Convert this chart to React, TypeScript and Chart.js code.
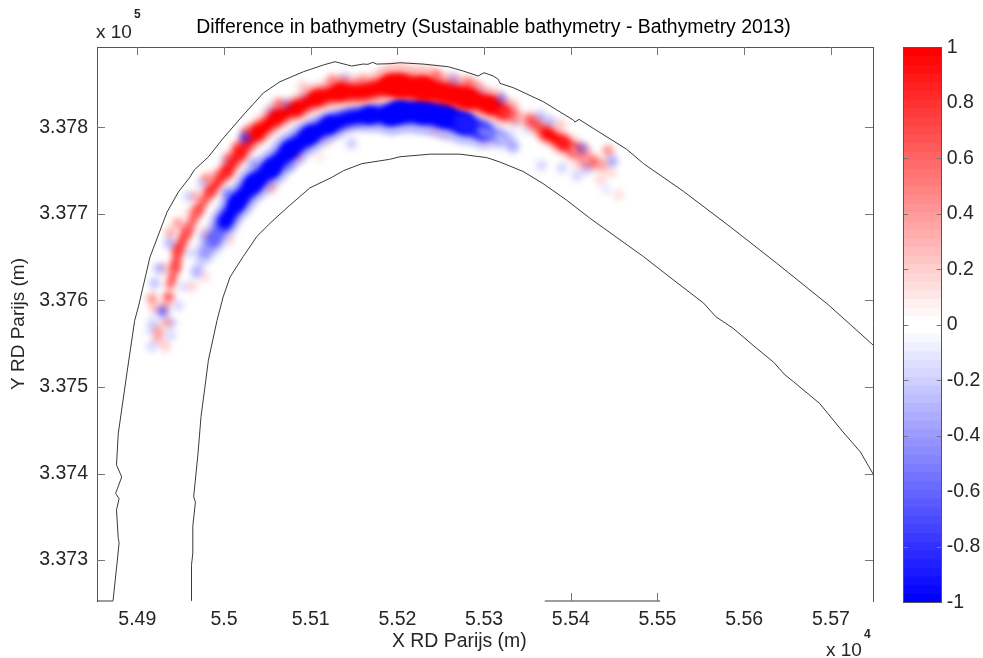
import React, { useEffect, useRef } from "react";
import { Chart, registerables } from "chart.js";

Chart.register(...registerables);

const chartTitle = "Difference in bathymetry (Sustainable bathymetry - Bathymetry 2013)";
const xLabel = "X RD Parijs (m)";
const yLabel = "Y RD Parijs (m)";

const xRange = [54853.5, 55748.6];
const yRange = [337252.7, 337892.8];
const xTicks = [54900, 55000, 55100, 55200, 55300, 55400, 55500, 55600, 55700];
const xTicksOnBottom = [55400, 55500];
const yTicks = [337300, 337400, 337500, 337600, 337700, 337800];

const outerX = [54872, 54877, 54879, 54878, 54876, 54879, 54875, 54882, 54876, 54878, 54888, 54897, 54901.2, 54914.6, 54934.3, 54947.3, 54960.8, 54965.7, 54981.9, 54999.2, 55022.3, 55045.3, 55064.6, 55091.5, 55114.5, 55128, 55133.8, 55147.3, 55160.3, 55166.1, 55171.5, 55176.1, 55191.5, 55203, 55229.5, 55258.7, 55276, 55293.3, 55299.9, 55310.6, 55316.4, 55318.3, 55333.7, 55368.3, 55402.9, 55404.8, 55409.5, 55425.9, 55464.5, 55484, 55530, 55584, 55637.5, 55697, 55748.6];
const outerY = [337253, 337300, 337320, 337325, 337358, 337371, 337377, 337396, 337410, 337446, 337516, 337577, 337592.4, 337650.1, 337702.1, 337725.2, 337742.6, 337750.7, 337765.7, 337787.6, 337814.2, 337839.6, 337852.7, 337864.2, 337872, 337875.8, 337874.3, 337870.8, 337873.1, 337872.8, 337875.1, 337873.1, 337873.5, 337874.6, 337873.1, 337870, 337865, 337859.3, 337863.1, 337859.3, 337855.5, 337850.8, 337845.8, 337829.6, 337808.4, 337806.1, 337809.2, 337798.8, 337774.6, 337758, 337726, 337685, 337643, 337595, 337548.5];

const innerX = [54963, 54962, 54963, 54962.5, 54964, 54964, 54964, 54967, 54965, 54970, 54973.5, 54978, 54982, 54992, 54999, 55007, 55022, 55038, 55055, 55076, 55099, 55124, 55138, 55159, 55191, 55203, 55238, 55272, 55303, 55318, 55345, 55368, 55395, 55422, 55484, 55518, 55553, 55567.5, 55587, 55614, 55634, 55647, 55657, 55687, 55714, 55734, 55749];
const innerY = [337253, 337265, 337283, 337294, 337308, 337323, 337339, 337367, 337373, 337423, 337466, 337500, 337531, 337577, 337604, 337627, 337650.5, 337674, 337691, 337710, 337730, 337742, 337750, 337758, 337763, 337766, 337769, 337769, 337765, 337760, 337749, 337735, 337716, 337695, 337650.5, 337624, 337597, 337581, 337568, 337545, 337528.5, 337514, 337506, 337481, 337448, 337425, 337399];

const bottomAxisLeftX = [54853.5, 54872];
const bottomAxisRightX = [55370, 55503];
const bottomAxisY = [337252.7, 337252.7];

const redBandX = [54938, 54944, 54947, 54957, 54970, 54984, 55003, 55018, 55038, 55061, 55084, 55107, 55134, 55161, 55192, 55203, 55230, 55257, 55280, 55307, 55322, 55336, 55353, 55372, 55391, 55404, 55418, 55437];
const redBandY = [337618, 337639, 337658, 337679, 337704, 337726, 337749, 337770, 337793, 337812, 337822, 337834, 337841, 337841, 337849, 337848, 337845, 337839, 337834, 337826, 337818, 337812, 337808, 337793, 337782, 337774, 337762, 337756];
const redBandValue = [0.75, 0.8, 0.8, 0.7, 0.75, 0.85, 0.9, 0.9, 1, 1, 1, 1, 1, 1, 1, 1, 1, 1, 1, 1, 0.8, 0.3, 0.7, 1, 0.9, 0.5, 0.35, 0.3];
const redBandWidthM = [7, 8, 9, 8, 8, 10, 12, 13, 16, 15, 16, 18, 20, 20, 25, 27, 26, 26, 21, 17, 11, 7, 12, 13, 14, 13, 12, 11];

const blueBandX = [54969, 54978, 54988, 55001, 55015, 55034, 55055, 55076, 55099, 55122, 55145, 55168, 55192, 55203, 55230, 55253, 55276, 55299, 55318, 55333];
const blueBandY = [337632, 337655, 337670, 337691, 337713, 337735, 337753, 337774, 337791, 337803, 337811, 337814, 337814, 337818, 337818, 337814, 337805, 337795, 337788, 337778];
const blueBandValue = [0.2, 0.4, 0.6, 1, 1, 1, 1, 1, 1, 1, 1, 1, 1, 1, 1, 1, 0.9, 0.55, 0.25, 0.12];
const blueBandWidthM = [9, 15, 17, 18, 20, 21, 20, 21, 20, 19, 19, 20, 25, 27, 28, 27, 22, 15, 11, 11];

const redSpeckX = [54917, 54920, 54924, 54932, 54924, 54936, 54932, 54934, 54932, 54947, 54938, 54961, 54967, 54980, 54992, 55005, 55016, 55026, 55038, 55063, 55091, 55124, 55159, 55137, 54963, 54978, 54978, 55007, 55055, 55086, 55111, 55120, 55245, 55282, 55291, 55334, 55388, 55426, 55443, 55434, 55447, 55455, 55418, 55241, 55253, 55301, 55407];
const redSpeckY = [337602, 337591, 337566, 337547, 337557, 337604, 337593, 337575, 337637, 337689, 337678, 337702, 337720, 337741, 337745, 337764, 337778, 337795, 337799, 337828, 337847, 337855, 337855, 337853, 337616, 337627, 337678, 337670, 337730, 337764, 337766, 337783, 337860, 337851, 337847, 337826, 337803, 337760, 337773, 337739, 337747, 337722, 337774, 337797, 337791, 337782, 337756];
const redSpeckValue = [0.5, 0.3, 0.4, 0.25, 0.4, 0.8, 0.4, 0.4, 0.25, 0.5, 0.4, 0.2, 0.35, 0.55, 0.4, 0.5, 0.5, 0.6, 0.6, 0.6, 0.25, 0.45, 0.3, 0.3, 0.2, 0.15, 0.2, 0.15, 0.3, 0.2, 0.1, 0.1, 0.5, 0.5, 0.2, 0.25, 0.25, 0.45, 0.55, 0.2, 0.15, 0.15, 0.2, 0.12, 0.1, 0.1, 0.1];

const blueSpeckX = [54929, 54940, 54938, 54915, 54918, 54917, 54920, 54925, 54937, 54947, 54959, 54974, 55024, 55001, 55053, 55072, 55091, 55140, 55147, 55076, 55003, 55033, 54961, 54967, 54953, 54976, 55265, 55320, 55297, 55365, 55376, 55413, 55448, 55418, 55334, 55330, 55366, 55390, 55407, 55336, 55441, 55349];
const blueSpeckY = [337587, 337574, 337560, 337566, 337575, 337547, 337620, 337637, 337666, 337594, 337720, 337735, 337788, 337762, 337820, 337826, 337835, 337858, 337781, 337755, 337724, 337759, 337655, 337633, 337616, 337674, 337855, 337833, 337843, 337813, 337807, 337776, 337761, 337752, 337778, 337788, 337756, 337753, 337744, 337801, 337728, 337797];
const blueSpeckValue = [0.65, 0.2, 0.2, 0.15, 0.2, 0.2, 0.3, 0.35, 0.35, 0.2, 0.2, 0.2, 0.75, 0.12, 0.2, 0.3, 0.1, 0.15, 0.25, 0.3, 0.4, 0.3, 0.15, 0.2, 0.15, 0.12, 0.3, 0.45, 0.1, 0.3, 0.3, 0.45, 0.4, 0.25, 0.18, 0.15, 0.2, 0.2, 0.2, 0.1, 0.1, 0.1];

const colorbarEdges = [0, 0.03125, 0.0625, 0.09375, 0.125, 0.15625, 0.1875, 0.21875, 0.25, 0.28125, 0.3125, 0.34375, 0.375, 0.40625, 0.4375, 0.46875, 0.5, 0.53125, 0.5625, 0.59375, 0.625, 0.65625, 0.6875, 0.71875, 0.75, 0.78125, 0.8125, 0.84375, 0.875, 0.90625, 0.9375, 0.96875, 1];

const INK = "#262626";
const AXIS = "#555555";
const TICK = "#777777";
const FAMILY = "'Liberation Sans', Arial, sans-serif";
const TICK_SIZE = 19.5;

function tint(v: number): string {
  const c = Math.round(255 * (1 - Math.min(1, Math.abs(v))));
  return v >= 0 ? `rgb(255,${c},${c})` : `rgb(${c},${c},255)`;
}

function zip(xs: number[], ys: number[], vs?: number[]) {
  return xs.map((x, i) => ({ x, y: ys[i], v: vs ? vs[i] : 0 }));
}

const softPlugin = {
  id: "soft",
  beforeDatasetDraw(chart: any, args: any) {
    if (chart.data.datasets[args.index].soft) {
      chart.ctx.save();
      chart.ctx.filter = "blur(3px)";
    }
  },
  afterDatasetDraw(chart: any, args: any) {
    if (chart.data.datasets[args.index].soft) chart.ctx.restore();
  },
};

function stroke(ctx: any, x1: number, y1: number, x2: number, y2: number) {
  ctx.beginPath();
  ctx.moveTo(x1, y1);
  ctx.lineTo(x2, y2);
  ctx.stroke();
}

function crisp(v: number) {
  return Math.round(v) + 0.5;
}

const mainTicksPlugin = {
  id: "mainTicks",
  afterDatasetsDraw(chart: any) {
    const { ctx, chartArea: a, scales } = chart;
    ctx.save();
    ctx.strokeStyle = TICK;
    ctx.lineWidth = 1;
    for (const v of xTicks) {
      const p = crisp(scales.x.getPixelForValue(v));
      stroke(ctx, p, a.top, p, a.top + 8);
      if (xTicksOnBottom.includes(v)) stroke(ctx, p, a.bottom, p, a.bottom - 8);
    }
    for (const v of yTicks) {
      const p = crisp(scales.y.getPixelForValue(v));
      stroke(ctx, a.left, p, a.left + 8, p);
      stroke(ctx, a.right, p, a.right - 8, p);
    }
    ctx.restore();
  },
};

const barTicksPlugin = {
  id: "barTicks",
  afterDatasetsDraw(chart: any) {
    const { ctx, chartArea: a, scales } = chart;
    ctx.save();
    ctx.strokeStyle = TICK;
    ctx.lineWidth = 1;
    for (const t of scales.y.ticks) {
      const p = crisp(scales.y.getPixelForValue(t.value));
      stroke(ctx, a.left, p, a.left + 5, p);
      stroke(ctx, a.right, p, a.right - 5, p);
    }
    ctx.restore();
  },
};

const notes = [
  { text: "x 10", x: 96, y: 38, size: 19, weight: "normal" },
  { text: "5", x: 134, y: 18, size: 12, weight: "bold" },
  { text: "x 10", x: 826, y: 656, size: 19, weight: "normal" },
  { text: "4", x: 864, y: 638, size: 12, weight: "bold" },
  { text: xLabel, x: 392, y: 647, size: 19.4, weight: "normal" },
];

const notesPlugin = {
  id: "notes",
  afterDraw(chart: any) {
    const ctx = chart.ctx;
    ctx.save();
    ctx.fillStyle = INK;
    ctx.textAlign = "left";
    ctx.textBaseline = "alphabetic";
    for (const n of notes) {
      ctx.font = `${n.weight} ${n.size}px ${FAMILY}`;
      ctx.fillText(n.text, n.x, n.y);
    }
    ctx.restore();
  },
};

function band(xs: number[], ys: number[], values: number[], widths: number[], sign: number, grow: number, fade: number) {
  return {
    type: "scatter",
    showLine: true,
    soft: true,
    pointRadius: 0,
    data: zip(xs, ys, values),
    borderCapStyle: "round",
    borderJoinStyle: "round",
    segment: {
      borderColor: (c: any) => tint(sign * values[c.p0DataIndex] * fade),
      borderWidth: (c: any) => {
        const s = c.chart.scales.x;
        return widths[c.p0DataIndex] * grow * (s.width / (xRange[1] - xRange[0]));
      },
    },
  };
}

function specks(xs: number[], ys: number[], values: number[], rgb: string) {
  return {
    type: "scatter",
    soft: true,
    data: zip(xs, ys, values),
    pointStyle: "rect",
    pointRadius: 7,
    pointRotation: -35,
    pointBorderWidth: 0,
    pointBackgroundColor: (c: any) => `rgba(${rgb},${c.raw ? c.raw.v * 0.8 : 0})`,
  };
}

function outline(xs: number[], ys: number[]) {
  return {
    type: "scatter",
    showLine: true,
    pointRadius: 0,
    borderColor: "#3a3a3a",
    borderWidth: 1,
    clip: false,
    data: zip(xs, ys),
  };
}

const sizeScale = (size: number, key: "width" | "height") => (s: any) => {
  s[key] = size;
};

const fixedTicks = (values: number[]) => (s: any) => {
  s.ticks = values.map((value) => ({ value }));
};

export default function App() {
  const mainRef = useRef<HTMLCanvasElement>(null);
  const barRef = useRef<HTMLCanvasElement>(null);

  useEffect(() => {
    const tickFont = { family: FAMILY, size: TICK_SIZE };
    const noGrid = { display: false, drawTicks: false };
    const main = new Chart(mainRef.current as any, {
      type: "scatter",
      plugins: [softPlugin, mainTicksPlugin, notesPlugin],
      data: {
        datasets: [
          outline(outerX, outerY),
          outline(innerX, innerY),
          outline(bottomAxisLeftX, bottomAxisY),
          outline(bottomAxisRightX, bottomAxisY),
          specks(blueSpeckX, blueSpeckY, blueSpeckValue, "0,0,255"),
          specks(redSpeckX, redSpeckY, redSpeckValue, "255,0,0"),
          band(redBandX, redBandY, redBandValue, redBandWidthM, 1, 1, 1),
          band(blueBandX, blueBandY, blueBandValue, blueBandWidthM, -1, 1, 1),
          band(redBandX, redBandY, redBandValue, redBandWidthM, 1, 1.8, 0.25),
          band(blueBandX, blueBandY, blueBandValue, blueBandWidthM, -1, 1.8, 0.25),
        ] as any,
      },
      options: {
        animation: false,
        responsive: false,
        maintainAspectRatio: false,
        devicePixelRatio: 1,
        layout: { padding: { left: 4, right: 0, top: 0, bottom: 0 } },
        plugins: {
          legend: { display: false },
          tooltip: { enabled: false },
          title: {
            display: true,
            text: chartTitle,
            color: "#000",
            font: { family: FAMILY, size: 19.4, weight: "normal", lineHeight: 1.2 },
            padding: { top: 16, bottom: 2 },
          },
        },
        scales: {
          x: {
            type: "linear",
            position: "bottom",
            min: xRange[0],
            max: xRange[1],
            afterBuildTicks: fixedTicks(xTicks),
            afterFit: sizeScale(57, "height"),
            border: { display: false },
            grid: noGrid,
            ticks: {
              autoSkip: false,
              maxRotation: 0,
              color: INK,
              font: tickFont,
              padding: 7,
              callback: (v: any) => String(+(v / 1e4).toFixed(2)),
            },
          },
          x2: {
            type: "linear",
            position: "top",
            min: xRange[0],
            max: xRange[1],
            afterFit: sizeScale(47 - 16 - 2 - 19.4 * 1.2, "height"),
            border: { display: true, color: AXIS },
            grid: noGrid,
            ticks: { display: false },
          },
          y: {
            type: "linear",
            position: "left",
            min: yRange[0],
            max: yRange[1],
            afterBuildTicks: fixedTicks(yTicks),
            afterFit: sizeScale(93, "width"),
            border: { display: true, color: AXIS },
            grid: noGrid,
            title: {
              display: true,
              text: yLabel,
              color: INK,
              font: { family: FAMILY, size: 19 },
              padding: { top: 3, bottom: 0 },
            },
            ticks: {
              autoSkip: false,
              color: INK,
              font: tickFont,
              padding: 9,
              callback: (v: any) => (+(v / 1e5).toFixed(3)).toFixed(3),
            },
          },
          y2: {
            type: "linear",
            position: "right",
            min: yRange[0],
            max: yRange[1],
            afterFit: sizeScale(110, "width"),
            border: { display: true, color: AXIS },
            grid: noGrid,
            ticks: { display: false },
          },
        },
      } as any,
    });

    const positive = colorbarEdges.slice(0, -1).map((lo, i) => ({ lo, hi: colorbarEdges[i + 1], v: i / 31 }));
    const negative = positive.map((b) => ({ lo: -b.hi, hi: -b.lo, v: -b.v }));
    const levels = [...positive].reverse().concat(negative);

    const bar = new Chart(barRef.current as any, {
      type: "bar",
      plugins: [barTicksPlugin],
      data: {
        labels: [""],
        datasets: levels.map((b) => ({
          data: [[b.lo, 1]],
          backgroundColor: tint(b.v),
          borderWidth: 0,
          barPercentage: 1,
          categoryPercentage: 1,
          grouped: false,
        })) as any,
      },
      options: {
        animation: false,
        responsive: false,
        maintainAspectRatio: false,
        devicePixelRatio: 1,
        layout: { padding: 0 },
        plugins: { legend: { display: false }, tooltip: { enabled: false } },
        scales: {
          x: {
            position: "bottom",
            afterFit: sizeScale(55.7, "height"),
            border: { display: true, color: AXIS, z: 2 },
            grid: noGrid,
            ticks: { display: false },
          },
          xTop: {
            type: "category",
            position: "top",
            labels: [""],
            afterFit: sizeScale(47.3, "height"),
            border: { display: true, color: AXIS, z: 2 },
            grid: noGrid,
            ticks: { display: false },
          },
          yLeft: {
            type: "linear",
            position: "left",
            min: -1,
            max: 1,
            afterFit: sizeScale(8.3, "width"),
            border: { display: true, color: AXIS, z: 2 },
            grid: noGrid,
            ticks: { display: false, stepSize: 0.2 },
          },
          y: {
            type: "linear",
            position: "right",
            min: -1,
            max: 1,
            afterFit: sizeScale(41.3, "width"),
            border: { display: true, color: AXIS, z: 2 },
            grid: noGrid,
            ticks: {
              stepSize: 0.2,
              color: INK,
              font: tickFont,
              padding: 5,
              callback: (v: any) => String(+(+v).toFixed(1)),
            },
          },
        },
      } as any,
    });

    return () => {
      main.destroy();
      bar.destroy();
    };
  }, []);

  return (
    <div>
      <canvas ref={mainRef} width={983} height={658} style={{ position: "absolute", left: 0, top: 0, display: "block" }} />
      <canvas ref={barRef} width={88} height={658} style={{ position: "absolute", left: 895, top: 0, display: "block" }} />
    </div>
  );
}
